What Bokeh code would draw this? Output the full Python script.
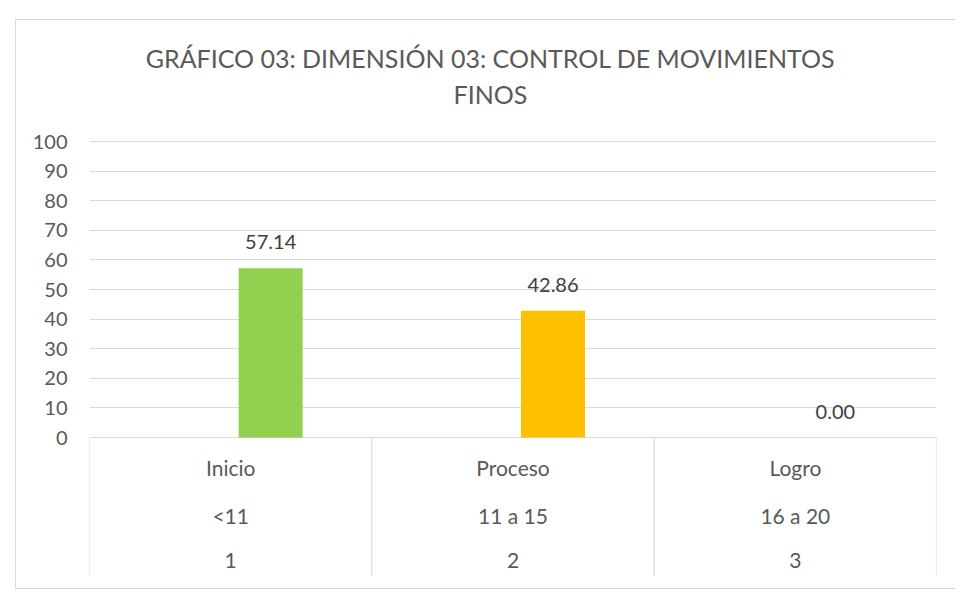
from bokeh.plotting import figure
from bokeh.models import ColumnDataSource, FixedTicker, Range1d, FactorRange
from bokeh.transform import dodge
from bokeh.core.properties import value
from bokeh.embed import file_html
from bokeh.resources import INLINE

# ---- data ----
niveles = ["Inicio", "Proceso", "Logro"]
rangos = ["<11", "11 a 15", "16 a 20"]
codigos = ["1", "2", "3"]
porcentajes = [57.14, 42.86, 0.00]
colores = ["#92D050", "#FFC000", "#A5A5A5"]
y_ticks = [0, 10, 20, 30, 40, 50, 60, 70, 80, 90, 100]
titulo_1 = "GRÁFICO 03: DIMENSIÓN 03: CONTROL DE MOVIMIENTOS"
titulo_2 = "FINOS"

FONT = "Lato"
TXT = "#595959"
GRID = "#D9D9D9"

src = ColumnDataSource(dict(
    cat=niveles, val=porcentajes, col=colores,
    lab=["%.2f" % v for v in porcentajes],
    rng=rangos, cod=codigos,
))

# layout (pixels, page coordinates of the reference)
OX, OY = 16, 20                          # canvas origin on the page (after chart border)
W, H = 956 - OX, 590 - OY
LEFT, RIGHT, BOTTOM = 89 - OX, 936 - OX, 576 - OY   # frame edges on the canvas
ZERO_Y, PX_PER_UNIT = 437 - OY, 2.96    # pixel row of value 0, pixels per unit
y_top = ZERO_Y / PX_PER_UNIT
y_bot = -(BOTTOM - ZERO_Y) / PX_PER_UNIT
cat_px = (RIGHT - LEFT) / len(niveles)

p = figure(width=W, height=H, output_backend="svg", toolbar_location=None,
           title=None,
           x_range=FactorRange(*niveles, range_padding=0),
           y_range=Range1d(y_bot, y_top),
           x_axis_location=None, min_border_left=LEFT, min_border_right=W - RIGHT,
           min_border_top=0, min_border_bottom=H - BOTTOM)
p.outline_line_color = None
p.background_fill_color = "white"
p.border_fill_color = "white"
p.styles = {
    "margin-left": "15px", "margin-top": "19px",
    "border-left": "1px solid #D9D9D9", "border-top": "1px solid #D9D9D9",
    "border-bottom": "1px solid #D9D9D9",
}

# y axis
ax = p.yaxis[0]
ax.ticker = FixedTicker(ticks=y_ticks)
ax.axis_line_color = None
ax.major_tick_line_color = None
ax.minor_tick_line_color = None
ax.major_tick_in = 0
ax.major_tick_out = 0
ax.major_label_standoff = 22
ax.major_label_text_font = FONT
ax.major_label_text_font_size = "20px"
ax.major_label_text_color = TXT

p.xgrid.visible = False
p.ygrid.ticker = FixedTicker(ticks=y_ticks)
p.ygrid.grid_line_color = GRID
p.ygrid.grid_line_width = 1.2

# bars (second slot of each cluster, as in the original)
p.vbar(x=dodge("cat", 0.1417, range=p.x_range), top="val", bottom=0, width=0.2267,
       fill_color="col", line_color=None, source=src)

# data labels
p.text(x=dodge("cat", 0.1417, range=p.x_range), y="val", text="lab", source=src,
       text_align="center", text_baseline="middle", y_offset=-26,
       text_font=value(FONT), text_font_size="20px", text_color="#404040")

# category table
nb = len(niveles)
p.segment(x0=list(range(nb + 1)), x1=list(range(nb + 1)),
          y0=[0] * (nb + 1), y1=[y_bot] * (nb + 1), line_color=GRID, line_width=1.2)
for col, off in (("cat", 30), ("rng", 78), ("cod", 123)):
    p.text(x="cat", y=0, text=col, source=src, text_align="center",
           text_baseline="middle", y_offset=off, text_font=value(FONT),
           text_font_size="21px", text_color=TXT)

# title (inside the frame area above the plot)
tx = (490 - OX - LEFT) / cat_px
p.text(x=[tx, tx], y=[(ZERO_Y - (57 - OY)) / PX_PER_UNIT, (ZERO_Y - (93 - OY)) / PX_PER_UNIT],
       text=[titulo_1, titulo_2], text_align="center", text_baseline="middle",
       text_font=value(FONT), text_font_size="25px", text_color=TXT)

open("out.html", "w").write(file_html(p, INLINE))
